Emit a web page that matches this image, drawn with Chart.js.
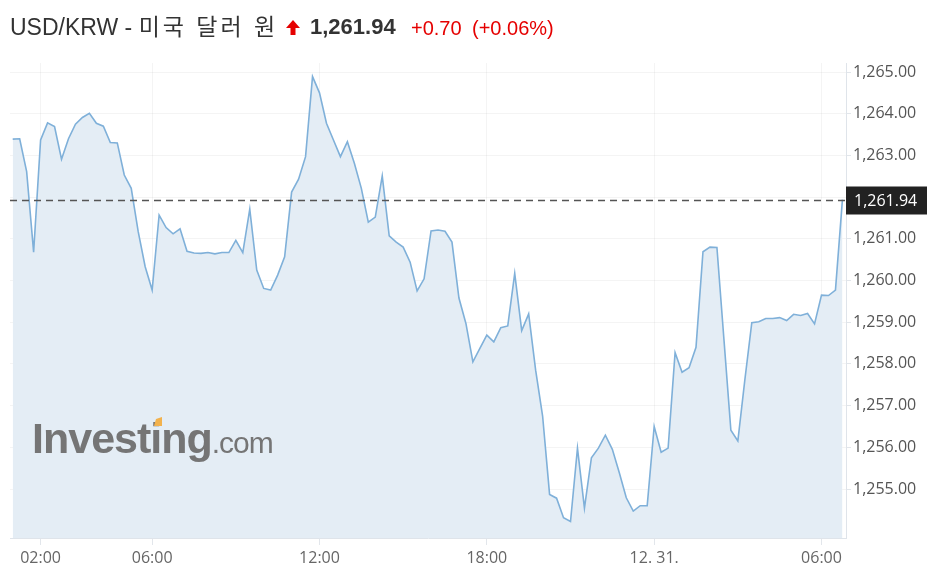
<!DOCTYPE html>
<html lang="ko">
<head>
  <meta charset="UTF-8" />
  <title>USD/KRW - 미국 달러 원</title>
  <script src="https://cdn.jsdelivr.net/npm/chart.js"></script>
  <style>
    * {
      margin: 0;
      padding: 0;
      box-sizing: border-box;
    }

    body {
      width: 937px;
      height: 575px;
      background: #fff;
      overflow: hidden;
      position: relative;
      font-family: "Liberation Sans", Arial, "Noto Sans CJK KR", sans-serif;
    }

    .head > span,
    .head svg {
      position: absolute;
      white-space: nowrap;
    }

    .head > span {
      font-size: 22px;
      line-height: 28px;
      top: 13px;
    }

    .name { left: 10px; color: #333; font-size: 23px !important; }
    .name .ko { letter-spacing: 3px; }
    .arrow { left: 286px; top: 20px; }
    .last { left: 310px; color: #333; font-weight: bold; }
    .head .chg { left: 411px; color: #e50000; font-size: 20px; top: 14px; }
    .head .pct { left: 472px; color: #e50000; font-size: 20px; top: 14px; }

    #chart {
      position: absolute;
      left: 0;
      top: 0;
    }
  </style>
</head>
<body>
  <canvas id="chart" width="937" height="575"></canvas>

  <div class="head">
    <span class="name">USD/KRW - <span class="ko">미국 달러 원</span></span>
    <svg class="arrow" width="14" height="15" viewBox="0 0 14 15">
      <path d="M7 0 L14 8 L9.5 8 L9.5 15 L4.5 15 L4.5 8 L0 8 Z" fill="#e50000"/>
    </svg>
    <span class="last">1,261.94</span>
    <span class="chg">+0.70</span>
    <span class="pct">(+0.06%)</span>
  </div>

  <script>
    // 15-minute quotes from 12/30 01:00 to 12/31 06:45
    const startHour = 1;
    const stepHours = 0.25;

    const prices = [
      1263.39, 1263.40, 1262.61, 1260.68, 1263.37, 1263.78, 1263.69, 1262.91,
      1263.40, 1263.75, 1263.91, 1264.01, 1263.77, 1263.70, 1263.31, 1263.30,
      1262.53, 1262.21, 1261.17, 1260.33, 1259.77, 1261.57, 1261.27, 1261.12,
      1261.24, 1260.70, 1260.66, 1260.65, 1260.67, 1260.64, 1260.67, 1260.67,
      1260.96, 1260.67, 1261.71, 1260.25, 1259.81, 1259.77, 1260.13, 1260.57,
      1262.12, 1262.43, 1262.97, 1264.89, 1264.50, 1263.77, 1263.37, 1262.97,
      1263.33, 1262.81, 1262.21, 1261.40, 1261.52, 1262.51, 1261.07, 1260.92,
      1260.80, 1260.44, 1259.75, 1260.04, 1261.19, 1261.21, 1261.18, 1260.92,
      1259.58, 1258.97, 1258.05, 1258.37, 1258.69, 1258.53, 1258.87, 1258.91,
      1260.17, 1258.80, 1259.20, 1257.85, 1256.75, 1254.87, 1254.78, 1254.31,
      1254.22, 1255.98, 1254.54, 1255.75, 1255.98, 1256.29, 1255.95, 1255.39,
      1254.79, 1254.47, 1254.60, 1254.60, 1256.50, 1255.88, 1255.98, 1258.27,
      1257.80, 1257.91, 1258.40, 1260.69, 1260.80, 1260.79, 1258.60, 1256.41,
      1256.15, 1257.61, 1258.99, 1259.01, 1259.09, 1259.09, 1259.11, 1259.04,
      1259.19, 1259.16, 1259.21, 1258.96, 1259.65, 1259.64, 1259.77, 1261.94
    ];

    const xTickHours = [2, 6, 12, 18, 24, 30];
    const xTickLabels = ['02:00', '06:00', '12:00', '18:00', '12. 31.', '06:00'];
    const yTickValues = [1255, 1256, 1257, 1258, 1259, 1260, 1261, 1262, 1263, 1264, 1265];

    const lastPrice = prices[prices.length - 1];
    const fmt = v => v.toLocaleString('en-US', { minimumFractionDigits: 2, maximumFractionDigits: 2 });
    const axisFont = { family: '"Open Sans", sans-serif', size: 16 };

    const watermark = {
      id: 'watermark',
      afterDatasetsDraw(chart) {
        const { ctx } = chart;
        ctx.save();
        ctx.fillStyle = '#757575';
        ctx.textBaseline = 'alphabetic';
        ctx.font = 'bold 43px "Liberation Sans", Arial, sans-serif';
        ctx.letterSpacing = '-1px';
        ctx.fillText('Investing', 32, 453);
        const w = ctx.measureText('Investing').width;
        ctx.font = '30px "Liberation Sans", Arial, sans-serif';
        ctx.fillText('.com', 32 + w, 453);
        ctx.fillStyle = '#f2b24d';
        ctx.beginPath();
        ctx.moveTo(154, 426);
        ctx.lineTo(156, 419);
        ctx.lineTo(162, 417);
        ctx.lineTo(162, 426);
        ctx.closePath();
        ctx.fill();
        ctx.restore();
      }
    };

    const lastLine = {
      id: 'lastLine',
      afterDatasetsDraw(chart) {
        const { ctx, chartArea } = chart;
        const y = Math.round(chart.scales.y.getPixelForValue(lastPrice)) + 0.5;
        ctx.save();
        ctx.strokeStyle = '#555';
        ctx.lineWidth = 1.4;
        ctx.setLineDash([7, 5]);
        ctx.beginPath();
        ctx.moveTo(chartArea.left, y);
        ctx.lineTo(chartArea.right, y);
        ctx.stroke();
        ctx.setLineDash([]);
        ctx.fillStyle = '#222';
        ctx.fillRect(chartArea.right, y - 14, 81, 28);
        ctx.fillStyle = '#fff';
        ctx.font = '16px "Open Sans", sans-serif';
        ctx.textBaseline = 'middle';
        ctx.fillText(fmt(lastPrice), chartArea.right + 8, y + 1);
        ctx.restore();
      }
    };

    new Chart(document.getElementById('chart'), {
      type: 'line',
      data: {
        datasets: [{
          data: prices.map((p, i) => ({ x: startHour + i * stepHours, y: p })),
          borderColor: '#7fb0d9',
          backgroundColor: '#e4edf5',
          borderWidth: 1.6,
          fill: 'start',
          tension: 0,
          pointRadius: 0
        }]
      },
      options: {
        responsive: false,
        animation: false,
        layout: { padding: { left: 10, top: 63, right: 0, bottom: 0 } },
        plugins: {
          legend: { display: false },
          tooltip: { enabled: false }
        },
        scales: {
          x: {
            type: 'linear',
            min: 0.903,
            max: 30.878,
            afterBuildTicks: s => { s.ticks = xTickHours.map(v => ({ value: v })); },
            afterFit: s => { s.height = 37; },
            grid: { color: 'rgba(0,0,0,0.045)', tickColor: '#e2e6eb', tickLength: 7 },
            border: { color: '#dfe4ea' },
            ticks: {
              autoSkip: false,
              maxRotation: 0,
              padding: 4,
              color: '#666',
              font: axisFont,
              callback: v => xTickLabels[xTickHours.indexOf(v)]
            }
          },
          y: {
            position: 'right',
            min: 1253.825,
            max: 1265.216,
            afterBuildTicks: s => { s.ticks = yTickValues.map(v => ({ value: v })); },
            afterFit: s => { s.width = 91; },
            grid: { color: 'rgba(0,0,0,0.045)', tickColor: '#e2e6eb', tickLength: 5 },
            border: { color: '#dfe4ea' },
            ticks: {
              padding: 2,
              color: '#555',
              font: axisFont,
              callback: v => fmt(v)
            }
          }
        }
      },
      plugins: [watermark, lastLine]
    });
  </script>
</body>
</html>
